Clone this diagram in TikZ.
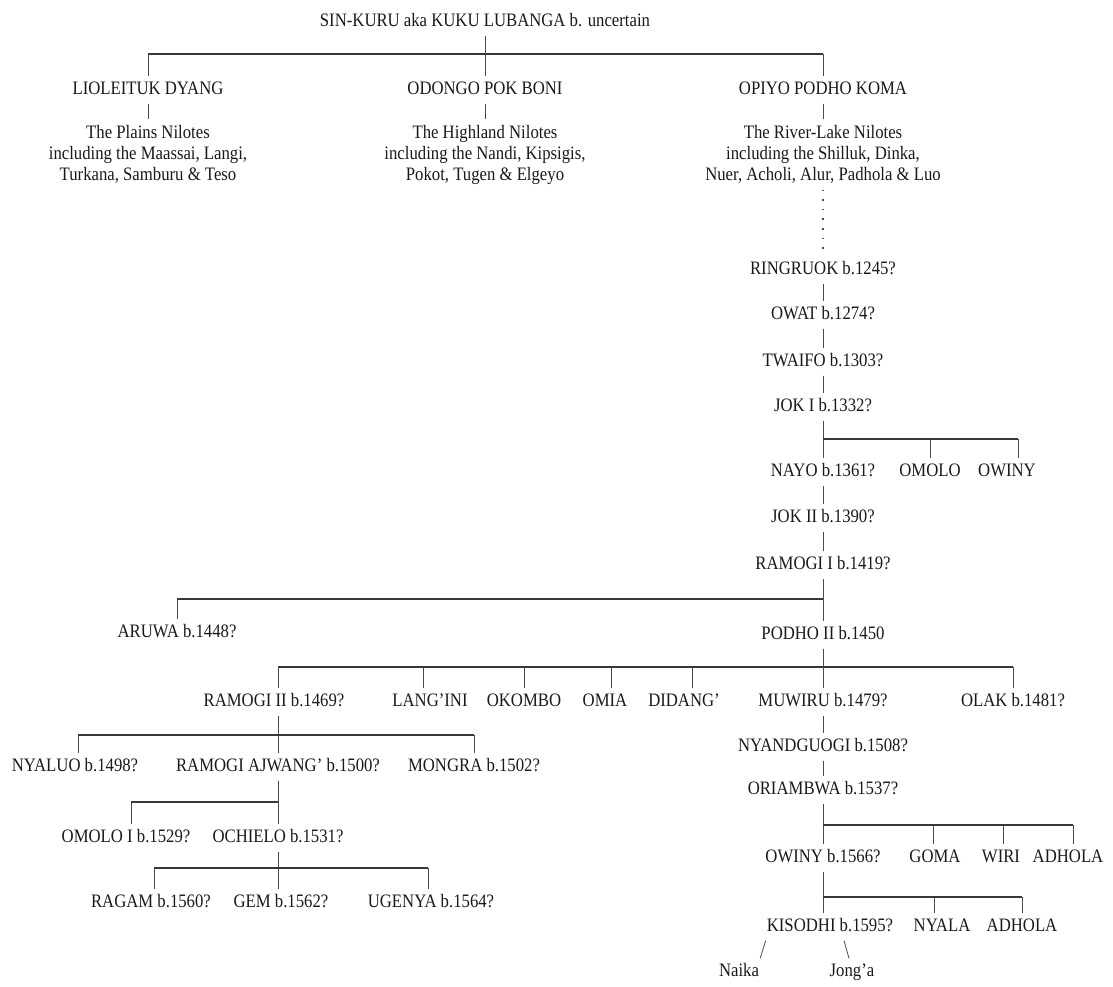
\documentclass[tikz,border=0pt]{standalone}
\usepackage{fontspec}
\setmainfont[FakeStretch=0.88]{Liberation Serif}
\usetikzlibrary{calc}

\begin{document}
\begin{tikzpicture}[x=1pt,y=-1pt,
	every node/.style={font=\fontsize{19}{21}\selectfont,text=black!90},
	person/.style={inner xsep=1pt,inner ysep=5pt,text height=13pt,text depth=4pt},
	folk/.style={align=center,anchor=north,inner sep=6pt},
	bar/.style={line width=2.4pt,draw=black!78},
	tick/.style={line width=0.8pt,draw=black!70},
	dotline/.style={line width=1.6pt,draw=black!70,dash pattern=on 1.6pt off 8pt}]
	\useasboundingbox (0,0) rectangle (1113,986);

	% founder and the three branches
	\node[person] (sinkuru) at (485,22) {SIN-KURU aka KUKU LUBANGA b. uncertain};
	\node[person] (lioleituk) at (148,90) {LIOLEITUK DYANG};
	\node[person] (odongo) at (485,90) {ODONGO POK BONI};
	\node[person] (opiyo) at (823,90) {OPIYO PODHO KOMA};
	\node[folk] (plains) at (148,119) {The Plains Nilotes\\including the Maassai, Langi,\\Turkana, Samburu \& Teso};
	\node[folk] (highland) at (485,119) {The Highland Nilotes\\including the Nandi, Kipsigis,\\Pokot, Tugen \& Elgeyo};
	\node[folk] (riverlake) at (823,119) {The River-Lake Nilotes\\including the Shilluk, Dinka,\\Nuer, Acholi, Alur, Padhola \& Luo};

	% main line
	\node[person] (ringruok) at (823,270) {RINGRUOK b.1245?};
	\node[person] (owat) at (823,315) {OWAT b.1274?};
	\node[person] (twaifo) at (823,362) {TWAIFO b.1303?};
	\node[person] (jokI) at (823,407) {JOK I b.1332?};
	\node[person] (nayo) at (823,472) {NAYO b.1361?};
	\node[person] (omoloA) at (930,472) {OMOLO};
	\node[person] (owinyA) at (1007,472) {OWINY};
	\node[person] (jokII) at (823,518) {JOK II b.1390?};
	\node[person] (ramogiI) at (823,565) {RAMOGI I b.1419?};
	\node[person] (aruwa) at (177,633) {ARUWA b.1448?};
	\node[person] (podhoII) at (823,635) {PODHO II b.1450};
	\node[person] (ramogiII) at (274,702) {RAMOGI II b.1469?};
	\node[person] (langini) at (430,702) {LANG'INI};
	\node[person] (okombo) at (524,702) {OKOMBO};
	\node[person] (omia) at (605,702) {OMIA};
	\node[person] (didang) at (684,702) {DIDANG'};
	\node[person] (muwiru) at (823,702) {MUWIRU b.1479?};
	\node[person] (olak) at (1013,702) {OLAK b.1481?};
	\node[person] (nyandguogi) at (823,747) {NYANDGUOGI b.1508?};
	\node[person] (oriambwa) at (823,790) {ORIAMBWA b.1537?};
	\node[person] (owinyB) at (823,858) {OWINY b.1566?};
	\node[person] (goma) at (935,858) {GOMA};
	\node[person] (wiri) at (1001,858) {WIRI};
	\node[person] (adholaA) at (1068,858) {ADHOLA};
	\node[person] (kisodhi) at (830,927) {KISODHI b.1595?};
	\node[person] (nyala) at (942,927) {NYALA};
	\node[person] (adholaB) at (1022,927) {ADHOLA};
	\node[person] (naika) at (739,972) {Naika};
	\node[person] (jonga) at (852,972) {Jong'a};

	% Ramogi II's house
	\node[person] (nyaluo) at (75,767) {NYALUO b.1498?};
	\node[person] (ajwang) at (278,767) {RAMOGI AJWANG' b.1500?};
	\node[person] (mongra) at (474,767) {MONGRA b.1502?};
	\node[person] (omoloI) at (126,838) {OMOLO I b.1529?};
	\node[person] (ochielo) at (278,838) {OCHIELO b.1531?};
	\node[person] (ragam) at (151,903) {RAGAM b.1560?};
	\node[person] (gem) at (281,903) {GEM b.1562?};
	\node[person] (ugenya) at (431,903) {UGENYA b.1564?};

	% sibling bars
	\coordinate (topL) at (148,54);   \coordinate (topR) at (823,54);
	\coordinate (jokL) at (823,439);  \coordinate (jokR) at (1018,439);
	\coordinate (ramL) at (177,599);  \coordinate (ramR) at (823,599);
	\coordinate (podL) at (278,667);  \coordinate (podR) at (1013,667);
	\coordinate (r2L) at (78,735);    \coordinate (r2R) at (474,735);
	\coordinate (ajL) at (131,802);   \coordinate (ajR) at (278,802);
	\coordinate (ocL) at (154,868);   \coordinate (ocR) at (428,868);
	\coordinate (orL) at (823,825);   \coordinate (orR) at (1073,825);
	\coordinate (owL) at (823,897);   \coordinate (owR) at (1022,897);

	\draw[tick] (sinkuru.south) -- (sinkuru.south |- topL);
	\draw[tick] (lioleituk.south) -- (plains.north);
	\draw[tick] (odongo.south) -- (highland.north);
	\draw[tick] (opiyo.south) -- (riverlake.north);
	\draw[dotline] (riverlake.south) -- (ringruok.north);

	\foreach \a/\b in {ringruok/owat,owat/twaifo,twaifo/jokI,jokI/nayo,nayo/jokII,jokII/ramogiI,ramogiI/podhoII,podhoII/muwiru,muwiru/nyandguogi,nyandguogi/oriambwa,oriambwa/owinyB,ajwang/ochielo}
		\draw[tick] (\a.south) -- (\b.north);
	\draw[tick] (owinyB.south) -- ([xshift=-7pt]kisodhi.north);
	\draw[tick] ([xshift=4pt]ramogiII.south) -- (ajwang.north);
	\draw[tick] (ochielo.south) -- ([xshift=-3pt]gem.north);

	\foreach \n/\d/\b in {lioleituk/0/topL,odongo/0/topL,opiyo/0/topL,omoloA/0/jokL,owinyA/11/jokL,aruwa/0/ramL,ramogiII/4/podL,langini/-7/podL,okombo/0/podL,omia/6/podL,didang/8/podL,olak/0/podL,nyaluo/3/r2L,mongra/0/r2L,omoloI/5/ajL,ragam/3/ocL,ugenya/-3/ocL,goma/-2/orL,wiri/2/orL,adholaA/5/orL,nyala/-8/owL,adholaB/0/owL}
		\draw[tick] ([xshift=\d pt]\n.north) |- (\b);

	\draw[tick] (kisodhi.south west) -- (naika.north east);
	\draw[tick] ([xshift=14pt]kisodhi.south) -- ([xshift=-3pt]jonga.north);

	\foreach \l/\r in {topL/topR,jokL/jokR,ramL/ramR,podL/podR,r2L/r2R,ajL/ajR,ocL/ocR,orL/orR,owL/owR}
		\draw[bar] (\l) -- (\r);
\end{tikzpicture}
\end{document}
